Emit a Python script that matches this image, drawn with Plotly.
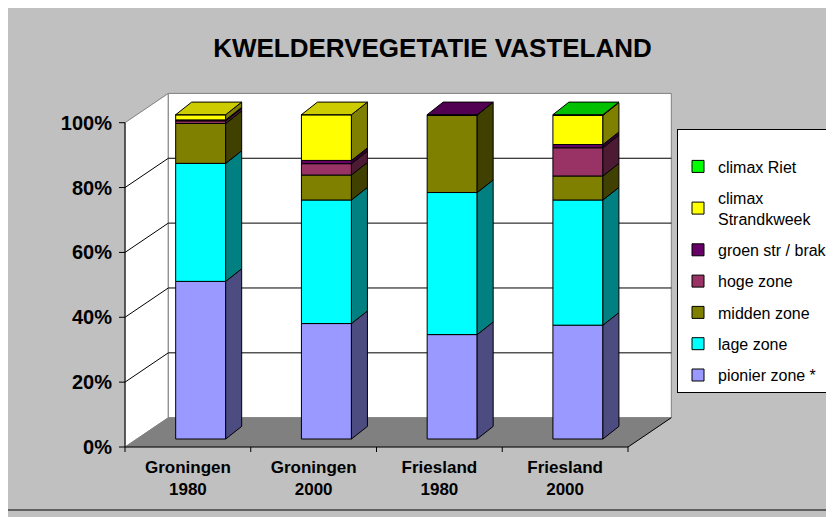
import plotly.graph_objects as go

# ---------------- data ----------------
categories = ["Groningen 1980", "Groningen 2000", "Friesland 1980", "Friesland 2000"]
series_names = ["pionier zone *", "lage zone", "midden zone", "hoge zone",
                "groen str / brak", "climax Strandkweek", "climax Riet"]
pionier = [48.6, 35.6, 32.2, 35.1]
lage = [36.4, 38.1, 43.8, 38.6]
midden = [12.3, 7.7, 23.9, 7.4]
hoge = [0.8, 3.5, 0.0, 8.7]
groen = [0.3, 1.0, 0.1, 1.0]
strandkweek = [1.6, 14.1, 0.0, 9.0]
riet = [0.0, 0.0, 0.0, 0.2]
y_ticks = [0, 20, 40, 60, 80, 100]
y_tick_labels = ["0%", "20%", "40%", "60%", "80%", "100%"]
legend_labels = ["pionier zone *", "lage zone", "midden zone", "hoge zone",
                 "groen str / brak", "climax<br>Strandkweek", "climax Riet"]

front_colors = ["#9999FF", "#00FFFF", "#808000", "#993366", "#660066", "#FFFF00", "#00FF00"]
side_colors = ["#4C4C80", "#008080", "#404000", "#4D1A33", "#330033", "#808000", "#008000"]
top_colors = ["#7A7ACC", "#00CCCC", "#666600", "#7A2952", "#520052", "#CCCC00", "#00C000"]

values = [pionier, lage, midden, hoge, groen, strandkweek, riet]

# ---------------- geometry (page pixels -> data units) ----------------
PAGE_OFF = 8         # default body margin of the html page
W_FIG, H_FIG = 834, 517
KX = 125.75          # px per category
KY = 3.243           # px per percent
L_PX, R_PX, T_PX, B_PX = 116, 674, 91, 456
X0_PX, Y0_PX = 125, 447     # front plane origin
x_lo = -0.5 - (X0_PX - L_PX) / KX
x_hi = -0.5 + (R_PX - X0_PX) / KX
y_lo = -(B_PX - Y0_PX) / KY
y_hi = (Y0_PX - T_PX) / KY
PW, PH = R_PX - L_PX, B_PX - T_PX

DX = 43.3 / KX       # wall depth
DY = 29.3 / KY
OX = 12.8 / KX       # bar front-face offset into depth
OY = 8.0 / KY
BW = 50.0 / KX       # bar width
BDX = 16.0 / KX      # bar depth
BDY = 12.6 / KY

n = len(categories)
xa, xb = -0.5, n - 0.5

fig = go.Figure()
shapes = []

def path(pts):
    return "M" + "L".join(f"{x},{y}" for x, y in pts) + "Z"

def wall(pts, fill, line_color, width):
    shapes.append(dict(type="path", xref="x", yref="y", path=path(pts),
                       fillcolor=fill, line=dict(color=line_color, width=width),
                       layer="below"))

def sline(x0, y0, x1, y1, color="black", width=1):
    shapes.append(dict(type="line", xref="x", yref="y", x0=x0, y0=y0, x1=x1, y1=y1,
                       line=dict(color=color, width=width), layer="below"))

def poly(xs, ys, fill, line_color, line_width):
    fig.add_trace(go.Scatter(x=xs, y=ys, mode="lines", fill="toself",
                             fillcolor=fill, line=dict(color=line_color, width=line_width),
                             hoverinfo="skip", showlegend=False))

def seg(xs, ys, color, width=1):
    fig.add_trace(go.Scatter(x=xs, y=ys, mode="lines",
                             line=dict(color=color, width=width),
                             hoverinfo="skip", showlegend=False))

# walls and floor
wall([(xa, 0), (xa + DX, DY), (xa + DX, 100 + DY), (xa, 100)], "white", "#808080", 1)
wall([(xa + DX, DY), (xb + DX, DY), (xb + DX, 100 + DY), (xa + DX, 100 + DY)],
     "white", "#808080", 1)
wall([(xa, 0), (xb, 0), (xb + DX, DY), (xa + DX, DY)], "#808080", "#808080", 0.5)

# gridlines
for v in y_ticks[1:-1]:
    sline(xa, v, xa + DX, v + DY)
    sline(xa + DX, v + DY, xb + DX, v + DY)

# floor front + right edges, y axis line
sline(xa, 0, xb, 0)
sline(xb, 0, xb + DX, DY)
sline(xa, 0, xa, 100)

# ticks
tx, ty = [], []
for v in y_ticks:
    tx += [xa - 6 / KX, xa, None]
    ty += [v, v, None]
for i in range(n + 1):
    tx += [xa + i, xa + i, None]
    ty += [0, -5 / KY, None]
seg(tx, ty, "black", 1)

# ---------------- bars ----------------
totals = [sum(values[s][c] for s in range(len(values))) for c in range(n)]
norm = [[values[s][c] / totals[c] * 100 for c in range(n)] for s in range(len(values))]
cum = [[0.0] * n for _ in range(len(values) + 1)]
for s in range(len(values)):
    for c in range(n):
        cum[s + 1][c] = cum[s][c] + norm[s][c]

xc = [c + OX for c in range(n)]

# front faces (legend entries)
for s in range(len(values)):
    fig.add_trace(go.Bar(
        x=xc, y=norm[s], base=[OY + cum[s][c] for c in range(n)], width=BW,
        marker=dict(color=front_colors[s], line=dict(color="black", width=1)),
        name=legend_labels[s], legendgroup=series_names[s], legendrank=100 - s,
        hovertemplate=series_names[s] + ": %{y:.1f}%<extra></extra>",
    ))

for s in range(len(values)):
    # side faces
    sx, sy = [], []
    for c in range(n):
        if norm[s][c] <= 0:
            continue
        xr = xc[c] + BW / 2
        b0 = OY + cum[s][c]
        b1 = OY + cum[s + 1][c]
        sx += [xr, xr + BDX, xr + BDX, xr, xr, None]
        sy += [b0, b0 + BDY, b1 + BDY, b1, b0, None]
    if sx:
        poly(sx, sy, side_colors[s], "black", 1)

# top faces
for s in range(len(values)):
    tx2, ty2 = [], []
    for c in range(n):
        top_s = max(k for k in range(len(values)) if norm[k][c] > 0)
        if top_s != s:
            continue
        xl = xc[c] - BW / 2
        xr = xc[c] + BW / 2
        t = OY + cum[len(values)][c]
        tx2 += [xl, xr, xr + BDX, xl + BDX, xl, None]
        ty2 += [t, t, t + BDY, t + BDY, t, None]
    if tx2:
        poly(tx2, ty2, top_colors[s], "black", 1)

# chart-area border (left and bottom)
bx = (7 - L_PX) / PW
by = (B_PX - 510) / PH
shapes.append(dict(type="line", xref="paper", yref="paper", x0=bx, x1=bx,
                   y0=(B_PX + PAGE_OFF) / PH, y1=by, line=dict(color="black", width=1)))
shapes.append(dict(type="line", xref="paper", yref="paper", x0=bx,
                   x1=(834 - L_PX) / PW, y0=by, y1=by, line=dict(color="black", width=1)))

fig.update_layout(
    width=W_FIG, height=H_FIG,
    margin=dict(l=L_PX - PAGE_OFF, r=W_FIG - (R_PX - PAGE_OFF), t=T_PX - PAGE_OFF,
                b=H_FIG - (B_PX - PAGE_OFF), autoexpand=False),
    paper_bgcolor="#C0C0C0", plot_bgcolor="rgba(0,0,0,0)",
    barmode="overlay",
    font=dict(family="Liberation Sans, Arial, sans-serif", color="black"),
    title=dict(text="<b>KWELDERVEGETATIE VASTELAND</b>",
               x=(432.5 - PAGE_OFF) / W_FIG, xanchor="center",
               y=1 - (48 - PAGE_OFF) / H_FIG, yanchor="middle",
               font=dict(size=26, color="black")),
    xaxis=dict(range=[x_lo, x_hi], showgrid=False, zeroline=False, showline=False,
               anchor="free", position=(B_PX - Y0_PX) / PH,
               tickvals=list(range(n)),
               ticktext=["<b>" + c.replace(" ", "<br>") + "</b>" for c in categories],
               ticks="", tickfont=dict(size=17), ticklabelstandoff=8, fixedrange=True),
    yaxis=dict(range=[y_lo, y_hi], showgrid=False, zeroline=False, showline=False,
               tickvals=y_ticks, ticktext=["<b>" + t + "</b>" for t in y_tick_labels],
               ticks="", tickfont=dict(size=20), ticklabelstandoff=3, fixedrange=True),
    legend=dict(x=(677 - L_PX) / PW, y=(B_PX - 129) / PH,
                xanchor="left", yanchor="top", bgcolor="white", bordercolor="black",
                borderwidth=1, font=dict(size=16, color="black"),
                title=dict(text=" ", font=dict(size=15)),
                tracegroupgap=7.5, itemclick=False, itemdoubleclick=False),
    shapes=shapes,
)

fig.write_html("out.html")
